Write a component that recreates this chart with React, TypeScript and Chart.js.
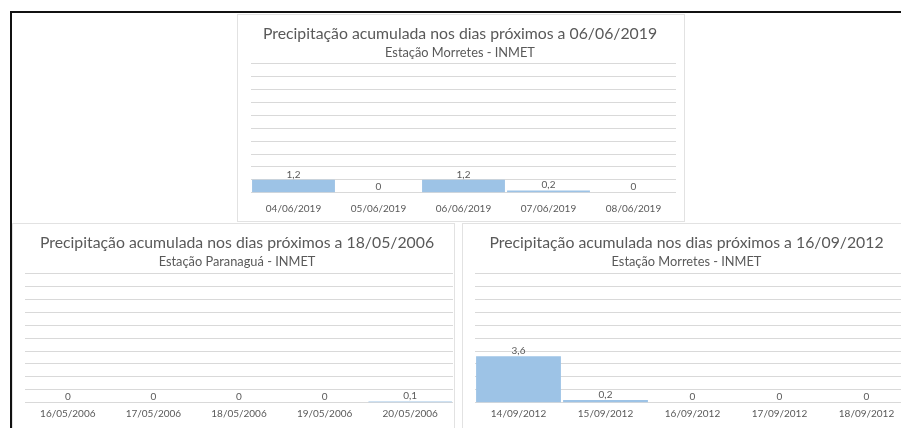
import React, { useEffect, useRef } from "react";
import { Chart, registerables } from "chart.js";

Chart.register(...registerables);

const FONT = "Lato, 'Open Sans', sans-serif";
const BAR_COLOR = "#9dc3e6";
const TEXT_COLOR = "#595959";
const GRID_COLOR = "#d9d9d9";

// Chart 1 (top)
const chart1Title = "Precipitação acumulada nos dias próximos a 06/06/2019";
const chart1Subtitle = "Estação Morretes - INMET";
const chart1Categories = ["04/06/2019", "05/06/2019", "06/06/2019", "07/06/2019", "08/06/2019"];
const chart1Values = [1.2, 0, 1.2, 0.2, 0];
const chart1Ticks = [0, 1.2, 2.4, 3.6, 4.8, 6, 7.2, 8.4, 9.6, 10.8, 12];

// Chart 2 (bottom left)
const chart2Title = "Precipitação acumulada nos dias próximos a 18/05/2006";
const chart2Subtitle = "Estação Paranaguá - INMET";
const chart2Categories = ["16/05/2006", "17/05/2006", "18/05/2006", "19/05/2006", "20/05/2006"];
const chart2Values = [0, 0, 0, 0, 0.1];
const chart2Ticks = [0, 1, 2, 3, 4, 5, 6, 7, 8, 9, 10];

// Chart 3 (bottom right)
const chart3Title = "Precipitação acumulada nos dias próximos a 16/09/2012";
const chart3Subtitle = "Estação Morretes - INMET";
const chart3Categories = ["14/09/2012", "15/09/2012", "16/09/2012", "17/09/2012", "18/09/2012"];
const chart3Values = [3.6, 0.2, 0, 0, 0];
const chart3Ticks = [0, 1, 2, 3, 4, 5, 6, 7, 8, 9, 10];

const valueLabelPlugin = {
  id: "valueLabels",
  afterDatasetsDraw(chart: any) {
    const ctx = chart.ctx;
    const meta = chart.getDatasetMeta(0);
    const data = chart.data.datasets[0].data as number[];
    ctx.save();
    ctx.font = `10px ${FONT}`;
    ctx.fillStyle = TEXT_COLOR;
    ctx.textAlign = "center";
    ctx.textBaseline = "middle";
    meta.data.forEach((el: any, i: number) => {
      ctx.fillText(String(data[i]).replace(".", ","), el.x, el.y - 5.5);
    });
    ctx.restore();
  },
};

type Box = { left: number; top: number; width: number; height: number };
type Pad = { left: number; right: number; top: number; bottom: number };

function BarChart(props: {
  title: string;
  subtitle: string;
  categories: string[];
  values: number[];
  ticks: number[];
  box: Box;
  pad: Pad;
  yWidth: number;
  xHeight: number;
  xPad: number;
  titlePadTop: number;
  subPadTop: number;
  subPadBottom: number;
}) {
  const ref = useRef<HTMLCanvasElement | null>(null);
  useEffect(() => {
    if (!ref.current) return;
    const tickVals = props.ticks;
    const chart = new Chart(ref.current, {
      type: "bar",
      data: {
        labels: props.categories,
        datasets: [
          {
            data: props.values,
            backgroundColor: BAR_COLOR,
            borderWidth: 0,
            barPercentage: 0.975,
            categoryPercentage: 1,
          },
        ],
      },
      options: {
        animation: false,
        responsive: false,
        devicePixelRatio: 1,
        layout: { padding: props.pad },
        plugins: {
          legend: { display: false },
          tooltip: { enabled: false },
          title: {
            display: true,
            text: props.title,
            color: TEXT_COLOR,
            font: { family: FONT, size: 15.8, weight: "normal" },
            padding: { top: props.titlePadTop, bottom: 0 },
          },
          subtitle: {
            display: true,
            text: props.subtitle,
            color: TEXT_COLOR,
            font: { family: FONT, size: 12.8, weight: "normal" },
            padding: { top: props.subPadTop, bottom: props.subPadBottom },
          },
        },
        scales: {
          x: {
            grid: { display: false, drawTicks: false },
            border: { display: false },
            afterFit: (scale: any) => {
              scale.height = props.xHeight;
            },
            ticks: {
              color: TEXT_COLOR,
              font: { family: FONT, size: 10 },
              padding: props.xPad,
              maxRotation: 0,
              autoSkip: false,
            },
          },
          y: {
            min: tickVals[0],
            max: tickVals[tickVals.length - 1],
            afterBuildTicks: (scale: any) => {
              scale.ticks = tickVals.map((v) => ({ value: v }));
            },
            afterFit: (scale: any) => {
              scale.width = props.yWidth;
            },
            grid: { color: GRID_COLOR, lineWidth: 1, drawTicks: false },
            border: { display: false },
            ticks: { display: false },
          },
        },
      },
      plugins: [valueLabelPlugin],
    });
    return () => chart.destroy();
  }, []);
  const b = props.box;
  return (
    <div
      style={{
        position: "absolute",
        left: b.left,
        top: b.top,
        width: b.width,
        height: b.height,
        border: "1px solid #e2e2e2",
        boxSizing: "border-box",
        background: "#fff",
      }}
    >
      <canvas
        ref={ref}
        width={b.width - 2}
        height={b.height - 2}
        style={{ display: "block", width: b.width - 2, height: b.height - 2 }}
      />
    </div>
  );
}

export default function App() {
  return (
    <div
      style={{
        position: "absolute",
        left: 0,
        top: 0,
        width: 901,
        height: 428,
        background: "#fff",
        overflow: "hidden",
      }}
    >
      <div style={{ position: "absolute", left: 10, top: 11, width: 891, height: 2, background: "#111" }} />
      <div style={{ position: "absolute", left: 10, top: 11, width: 2, height: 417, background: "#111" }} />
      <BarChart
        title={chart1Title}
        subtitle={chart1Subtitle}
        categories={chart1Categories}
        values={chart1Values}
        ticks={chart1Ticks}
        box={{ left: 237, top: 14, width: 448, height: 208 }}
        pad={{ left: 6, right: 8, top: 0, bottom: 4.3 }}
        yWidth={7}
        xHeight={24}
        xPad={10}
        titlePadTop={9}
        subPadTop={2}
        subPadBottom={3.5}
      />
      <BarChart
        title={chart2Title}
        subtitle={chart2Subtitle}
        categories={chart2Categories}
        values={chart2Values}
        ticks={chart2Ticks}
        box={{ left: 12, top: 223, width: 443, height: 210 }}
        pad={{ left: 8, right: 1, top: 0, bottom: 5.3 }}
        yWidth={4}
        xHeight={24}
        xPad={5}
        titlePadTop={9.7}
        subPadTop={1.2}
        subPadBottom={4.4}
      />
      <BarChart
        title={chart3Title}
        subtitle={chart3Subtitle}
        categories={chart3Categories}
        values={chart3Values}
        ticks={chart3Ticks}
        box={{ left: 462, top: 223, width: 449, height: 210 }}
        pad={{ left: 0, right: 0, top: 0, bottom: 5.3 }}
        yWidth={12}
        xHeight={24}
        xPad={5}
        titlePadTop={9.7}
        subPadTop={1.2}
        subPadBottom={4.4}
      />
    </div>
  );
}
